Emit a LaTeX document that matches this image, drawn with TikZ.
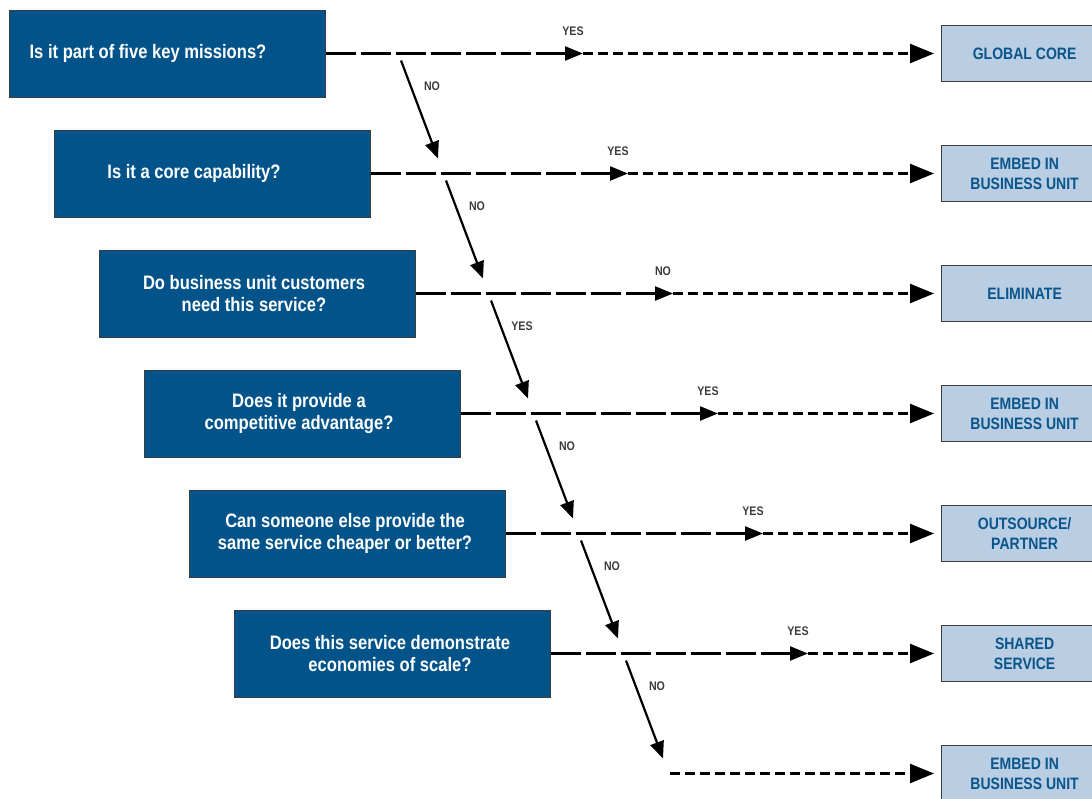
\documentclass[tikz,border=0pt]{standalone}
\usepackage{fontspec}
\setmainfont{Liberation Sans}[FakeStretch=0.85]
\usetikzlibrary{arrows.meta}
\definecolor{qblue}{RGB}{2,83,137}
\definecolor{ablue}{RGB}{185,205,227}
\definecolor{atext}{RGB}{10,85,140}
\definecolor{edge}{RGB}{60,60,60}
\tikzset{
  qbox/.style={draw=edge,line width=1pt,fill=qblue,minimum width=316pt,minimum height=87pt,inner sep=0pt},
  qtext/.style={text=white,font=\bfseries\fontsize{19.5}{22}\selectfont,align=center,inner sep=0pt},
  abox/.style={draw=edge,line width=1.2pt,fill=ablue,minimum width=166pt,minimum height=56pt,anchor=west,
    text=atext,font=\bfseries\fontsize{16.5}{20}\selectfont,align=center,inner sep=0pt},
  tag/.style={text=edge,font=\bfseries\fontsize{12.5}{14}\selectfont,inner sep=0pt},
  longdash/.style={line width=2.4pt,dash pattern=on 30pt off 5pt,-{Triangle[length=18pt,width=14pt]}},
  shortdash/.style={line width=2.4pt,dash pattern=on 10pt off 5pt,-{Triangle[length=24pt,width=19pt]},shorten >=7pt},
  down/.style={line width=2.2pt,-{Triangle[length=17pt,width=14pt]}}
}
\begin{document}
\begin{tikzpicture}[x=1pt,y=-1pt]
	\useasboundingbox (0,0) rectangle (1092,798);

	%QUESTIONS
	\node[qbox] (q1) at (167,53.5) {};
	\node[qtext] (t1) at (148,53.5) {Is it part of five key missions?};
	\node[qbox] (q2) at (212,173.5) {};
	\node[qtext] (t2) at (194,173.5) {Is it a core capability?};
	\node[qbox] (q3) at (257,293.5) {};
	\node[qtext] (t3) at (254,293.5) {Do business unit customers\\need this service?};
	\node[qbox] (q4) at (302,413.5) {};
	\node[qtext] (t4) at (299,413.5) {Does it provide a\\competitive advantage?};
	\node[qbox] (q5) at (347,533.5) {};
	\node[qtext] (t5) at (345,533.5) {Can someone else provide the\\same service cheaper or better?};
	\node[qbox] (q6) at (392,653.5) {};
	\node[qtext] (t6) at (390,653.5) {Does this service demonstrate\\economies of scale?};

	%OUTCOMES
	\node[abox] (a1) at (941,53.5) {GLOBAL CORE};
	\node[abox] (a2) at (941,173.5) {EMBED IN\\BUSINESS UNIT};
	\node[abox] (a3) at (941,293.5) {ELIMINATE};
	\node[abox] (a4) at (941,413.5) {EMBED IN\\BUSINESS UNIT};
	\node[abox] (a5) at (941,533.5) {OUTSOURCE/\\PARTNER};
	\node[abox] (a6) at (941,653.5) {SHARED\\SERVICE};
	\node[abox] (a7) at (941,773.5) {EMBED IN\\BUSINESS UNIT};

	%CONNECTORS & LABELS
	\foreach \i/\yn/\dn in {1/YES/NO,2/YES/NO,3/NO/YES,4/YES/NO,5/YES/NO,6/YES/NO}{
		\pgfmathsetmacro\dx{45*(\i-1)}
		\pgfmathsetmacro\rowy{53.5+120*(\i-1)}
		\coordinate (m\i) at (583+\dx,\rowy);
		\draw[longdash] (q\i.east) -- (m\i);
		\draw[shortdash] (m\i) -- (a\i.west);
		\node[tag] (y\i) at (573+\dx,\rowy-22.5) {\yn};
		\coordinate (d\i) at (401+\dx,\rowy+7);
		\coordinate (e\i) at (438+\dx,\rowy+105);
		\draw[down] (d\i) -- (e\i);
		\node[tag] (n\i) at (432+\dx,\rowy+33) {\dn};
	} %end foreach
	\coordinate (m7) at (670,773.5);
	\draw[shortdash] (m7) -- (a7.west);
\end{tikzpicture}
\end{document}
